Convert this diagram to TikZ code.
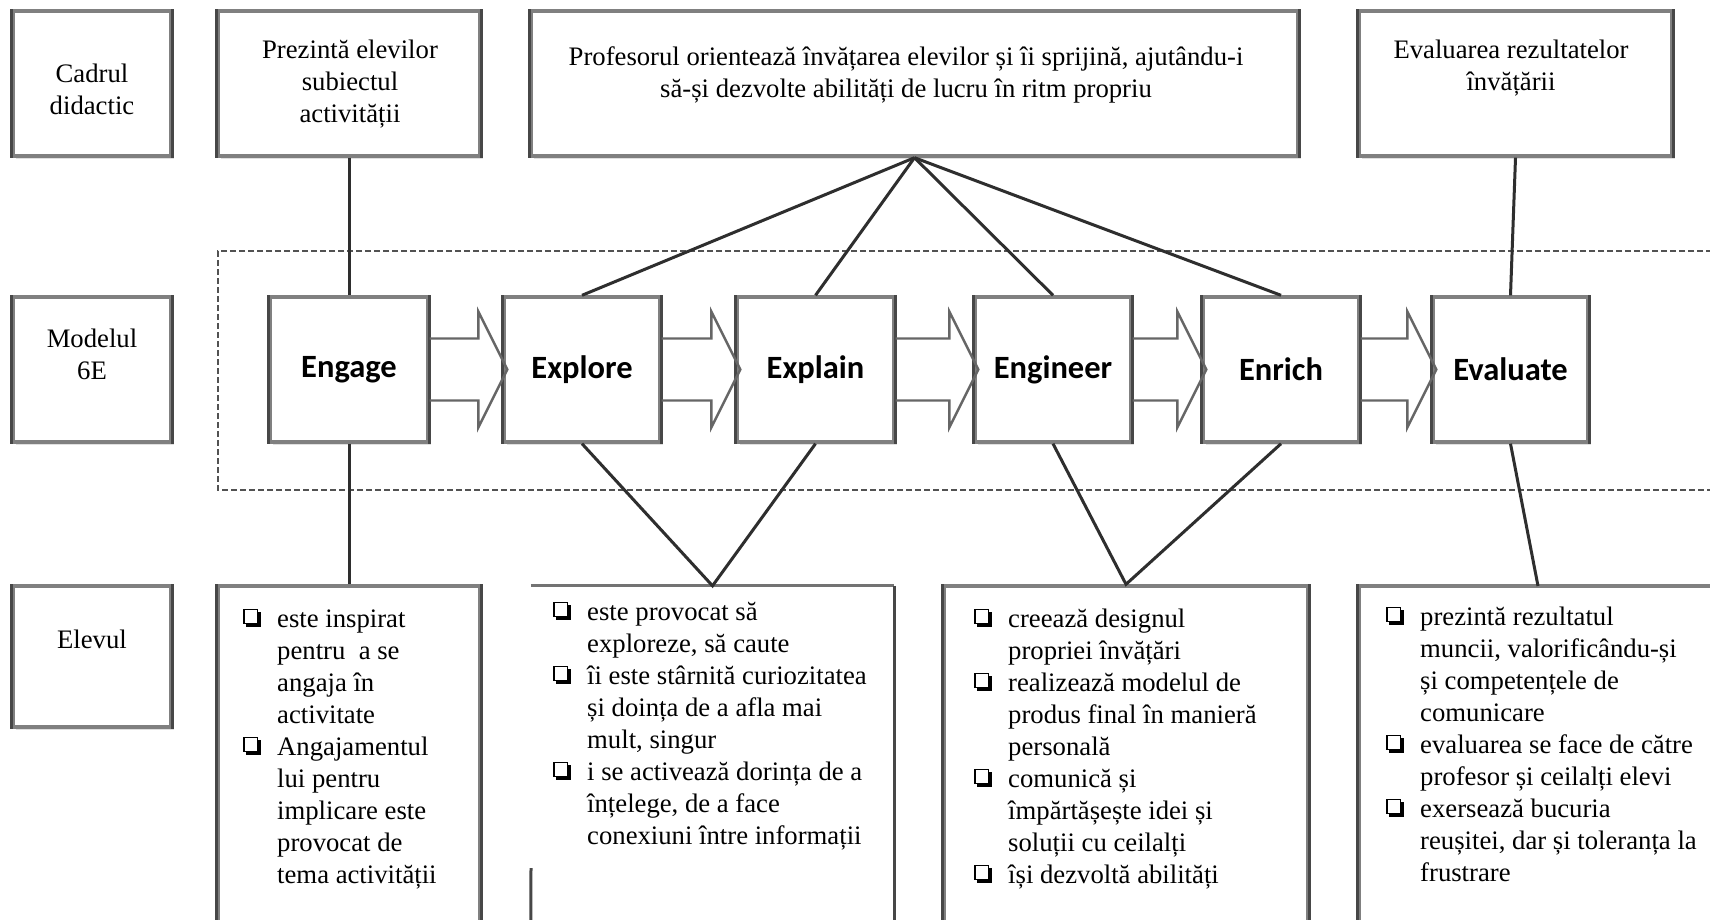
\documentclass[tikz,border=0pt]{standalone}
\usepackage{fontspec}
\setmainfont{Liberation Serif}
\newfontfamily\calib{Carlito}
\usetikzlibrary{calc,shadows}
\newcommand{\ser}{\fontsize{26.7}{32}\selectfont}
\newcommand{\bx}{\makebox[34pt][l]{\raisebox{3pt}{%
  \rlap{\hspace{3pt}\rule[-3pt]{15pt}{15pt}}%
  \rlap{\textcolor{white}{\rule{15pt}{15pt}}}%
  \rlap{\raisebox{1.3pt}{\setlength{\fboxsep}{0pt}\setlength{\fboxrule}{1.3pt}\fbox{\rule{0pt}{12.4pt}\hspace{12.4pt}}}}}}}
\newcommand{\ind}{\hspace*{34pt}}
\begin{document}
\begin{tikzpicture}[x=1pt,y=-1pt,
  box/.style={draw=black!50, line width=3.4pt, fill=white, inner sep=0pt,
    drop shadow={shadow xshift=3pt, shadow yshift=-3pt, fill=black!12, opacity=1},
    append after command={
      (\tikzlastnode.north west) edge[draw=black!72, line width=3pt] (\tikzlastnode.south west)
      (\tikzlastnode.north east) edge[draw=black!72, line width=3pt] (\tikzlastnode.south east)}},
  bline/.style={draw=black!55, line width=3.2pt},
  lbl/.style={font=\calib\bfseries\fontsize{32.5}{32.5}\selectfont},
  conn/.style={draw=black!82, line width=3pt},
  barrow/.style={draw=black!60, line width=2.4pt, line join=miter},
  txt/.style={font=\ser, inner sep=0pt, align=center, anchor=base},
  lst/.style={font=\ser, inner sep=0pt, align=left, anchor=base west}]
\useasboundingbox (0,0) rectangle (1710,919);
\clip (0,0) rectangle (1710,919);
\fill[white] (0,0) rectangle (1710,919);

% dashed frame around the 6E row
\draw[black!68, line width=2.8pt, dash pattern=on 6pt off 3pt]
  (1730,251) -- (218,251) -- (218,490) -- (1730,490);

% top row
\node[box, minimum width=158pt, minimum height=145pt] (cadrul) at (92,83.5) {};
\node[box, minimum width=262pt, minimum height=145pt] (prez) at (349,83.5) {};
\node[box, minimum width=767pt, minimum height=145pt] (prof) at (914.5,83.5) {};
\node[box, minimum width=313pt, minimum height=145pt] (evalr) at (1515.5,83.5) {};

% middle row
\node[box, minimum width=158pt, minimum height=145pt] (modelul) at (92,369.5) {};
\node[box, minimum width=158pt, minimum height=145pt, lbl] (engage) at (349,369.5) {Engage};
\node[box, minimum width=156pt, minimum height=145pt, lbl] (explore) at (582,369.5) {Explore};
\node[box, minimum width=157pt, minimum height=145pt, lbl] (explain) at (815.5,369.5) {Explain};
\node[box, minimum width=156pt, minimum height=145pt, lbl] (engineer) at (1053,369.5) {Engineer};
\node[box, minimum width=156pt, minimum height=145pt, lbl] (enrich) at (1281,369.5) {Enrich};
\node[box, minimum width=155pt, minimum height=145pt, lbl] (evaluate) at (1510.5,369.5) {Evaluate};

% bottom row
\node[box, minimum width=158pt, minimum height=141pt] (elevul) at (92,656.5) {};
\node[box, minimum width=262pt, minimum height=354pt] (b1) at (349,763) {};
\node[inner sep=0pt, minimum width=363pt, minimum height=354pt] (b2) at (712.5,763) {};
\draw[bline] (b2.north west) -- (b2.north east);
\draw[draw=black!72, line width=3pt] (b2.north east) -- (b2.south east);
\draw[draw=black!72, line width=3pt] (531,868) -- (b2.south west);
\node[box, minimum width=364pt, minimum height=354pt] (b3) at (1126,763) {};
\node[box, minimum width=401pt, minimum height=354pt] (b4) at (1559.5,763) {};
\coordinate (b4in) at (1538,586);

% connectors
\draw[conn] (prez.south) -- (engage.north);
\draw[conn] (engage.south) -- (b1.north);
\draw[conn] (prof.south) -- (explore.north);
\draw[conn] (prof.south) -- (explain.north);
\draw[conn] (prof.south) -- (engineer.north);
\draw[conn] (prof.south) -- (enrich.north);
\draw[conn] (explore.south) -- (b2.north) -- (explain.south);
\draw[conn] (engineer.south) -- (b3.north) -- (enrich.south);
\draw[conn] (evalr.south) -- (evaluate.north);
\draw[conn] (evaluate.south) -- (b4in);

% block arrows
\foreach \a/\b in {engage/explore, explore/explain, explain/engineer, engineer/enrich, enrich/evaluate}{
  \draw[barrow] ($(\a.east)+(0,-31)$) -- ($(\b.west)+(-24,-31)$) -- ($(\b.west)+(-24,-58)$)
    -- ($(\b.west)+(5,0)$) -- ($(\b.west)+(-24,58)$) -- ($(\b.west)+(-24,31)$) -- ($(\a.east)+(0,31)$);
}

% texts (anchor base = baseline of the last line)
\node[txt] (tcad) at (92,114) {Cadrul\\didactic};
\node[txt] (tprez) at (350,122) {Prezintă elevilor\\subiectul\\activității};
\node[txt] (tprof) at (906,97) {Profesorul orientează învățarea elevilor și îi sprijină, ajutându-i\\să-și dezvolte abilități de lucru în ritm propriu};
\node[txt] (tevr) at (1511,90) {Evaluarea rezultatelor\\învățării};
\node[txt] (tmod) at (92,379) {Modelul\\6E};
\node[txt] (telev) at (92,648) {Elevul};

\node[lst] (l1) at (243,883) {\bx este inspirat\\\ind pentru~ a se\\\ind angaja în\\\ind activitate\\\bx Angajamentul\\\ind lui pentru\\\ind implicare este\\\ind provocat de\\\ind tema activității};
\node[lst] (l2) at (553,844) {\bx este provocat să\\\ind exploreze, să caute\\\bx îi este stârnită curiozitatea\\\ind și doința de a afla mai\\\ind mult, singur\\\bx i se activează dorința de a\\\ind înțelege, de a face\\\ind conexiuni între informații};
\node[lst] (l3) at (974,883) {\bx creează designul\\\ind propriei învățări\\\bx realizează modelul de\\\ind produs final în manieră\\\ind personală\\\bx comunică și\\\ind împărtășește idei și\\\ind soluții cu ceilalți\\\bx își dezvoltă abilități};
\node[lst] (l4) at (1386,881) {\bx prezintă rezultatul\\\ind muncii, valorificându-și\\\ind și competențele de\\\ind comunicare\\\bx evaluarea se face de către\\\ind profesor și ceilalți elevi\\\bx exersează bucuria\\\ind reușitei, dar și toleranța la\\\ind frustrare};
\end{tikzpicture}
\end{document}
